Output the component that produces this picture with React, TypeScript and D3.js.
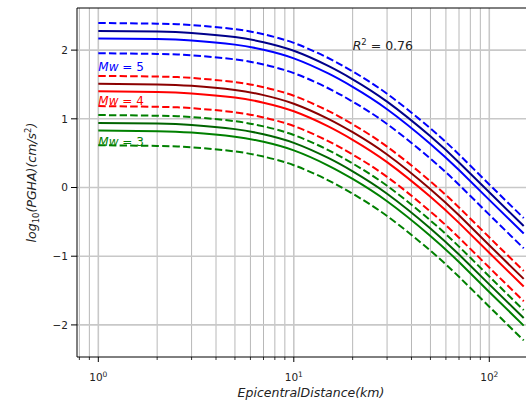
import React from 'react';
import * as d3 from 'd3';

// epicentral distance (km) where the curves were read
const distances = [1, 2, 3, 5, 7, 10, 15, 20, 30, 50, 70, 100, 150];

// Mw = 5
const mw5Upper = [2.395, 2.385, 2.365, 2.305, 2.23, 2.105, 1.885, 1.69, 1.365, 0.86, 0.48, 0.045, -0.445];
const mw5Dark = [2.28, 2.27, 2.25, 2.19, 2.115, 1.99, 1.77, 1.575, 1.25, 0.745, 0.365, -0.07, -0.56];
const mw5Model = [2.17, 2.16, 2.14, 2.08, 2.005, 1.88, 1.66, 1.465, 1.14, 0.635, 0.255, -0.18, -0.67];
const mw5Lower = [1.955, 1.945, 1.925, 1.865, 1.79, 1.665, 1.445, 1.25, 0.925, 0.42, 0.04, -0.395, -0.885];

// Mw = 4
const mw4Upper = [1.625, 1.615, 1.595, 1.535, 1.46, 1.335, 1.115, 0.92, 0.595, 0.09, -0.29, -0.725, -1.215];
const mw4Dark = [1.51, 1.5, 1.48, 1.42, 1.345, 1.22, 1.0, 0.805, 0.48, -0.025, -0.405, -0.84, -1.33];
const mw4Model = [1.4, 1.39, 1.37, 1.31, 1.235, 1.11, 0.89, 0.695, 0.37, -0.135, -0.515, -0.95, -1.44];
const mw4Lower = [1.185, 1.175, 1.155, 1.095, 1.02, 0.895, 0.675, 0.48, 0.155, -0.35, -0.73, -1.165, -1.655];

// Mw = 3
const mw3Upper = [1.055, 1.045, 1.025, 0.965, 0.89, 0.765, 0.545, 0.35, 0.025, -0.48, -0.86, -1.295, -1.785];
const mw3Dark = [0.94, 0.93, 0.91, 0.85, 0.775, 0.65, 0.43, 0.235, -0.09, -0.595, -0.975, -1.41, -1.9];
const mw3Model = [0.83, 0.82, 0.8, 0.74, 0.665, 0.54, 0.32, 0.125, -0.2, -0.705, -1.085, -1.52, -2.01];
const mw3Lower = [0.615, 0.605, 0.585, 0.525, 0.45, 0.325, 0.105, -0.09, -0.415, -0.92, -1.3, -1.735, -2.225];

const yTicks = [-2, -1, 0, 1, 2];
const xMajor = [1, 10, 100];
const xMajorExp = ['0', '1', '2'];
const xMinor = [0.8, 0.9, 2, 3, 4, 5, 6, 7, 8, 9, 20, 30, 40, 50, 60, 70, 80, 90];

const mwLabels = [
  { text: '5', y: 1.7, color: '#0000ff' },
  { text: '4', y: 1.2, color: '#ff0000' },
  { text: '3', y: 0.6, color: '#008000' },
];

const series = [
  { values: mw5Upper, color: '#0000ff', dashed: true },
  { values: mw5Dark, color: '#00008b', dashed: false },
  { values: mw5Model, color: '#0000ff', dashed: false },
  { values: mw5Lower, color: '#0000ff', dashed: true },
  { values: mw4Upper, color: '#ff0000', dashed: true },
  { values: mw4Dark, color: '#8b0000', dashed: false },
  { values: mw4Model, color: '#ff0000', dashed: false },
  { values: mw4Lower, color: '#ff0000', dashed: true },
  { values: mw3Upper, color: '#008000', dashed: true },
  { values: mw3Dark, color: '#006400', dashed: false },
  { values: mw3Model, color: '#008000', dashed: false },
  { values: mw3Lower, color: '#008000', dashed: true },
];

const W = 526;
const H = 405;
const left = 77;
const right = 545;
const top = 8;
const bottom = 357;

export default function App() {
  const x = d3.scaleLog().domain([Math.pow(10, -0.109), Math.pow(10, 2.285)]).range([left, right]);
  const y = d3.scaleLinear().domain([-2.467, 2.613]).range([bottom, top]);

  const line = d3
    .line<number>()
    .x((_, i) => x(distances[i]))
    .y((d) => y(d))
    .curve(d3.curveNatural);

  const font = 'DejaVu Sans, sans-serif';

  return (
    <svg
      width={W}
      height={H}
      style={{ position: 'absolute', left: 0, top: 0, background: '#fff' }}
      fontFamily={font}
    >
      <defs>
        <clipPath id="plot-area">
          <rect x={left} y={top} width={right - left} height={bottom - top} />
        </clipPath>
      </defs>

      {/* grid */}
      <g clipPath="url(#plot-area)">
        {xMinor.map((t) => (
          <line key={`gm-${t}`} x1={x(t)} x2={x(t)} y1={top} y2={bottom} stroke="#b8b8b8" strokeWidth={1} />
        ))}
        {xMajor.map((t) => (
          <line key={`gx-${t}`} x1={x(t)} x2={x(t)} y1={top} y2={bottom} stroke="#c8c8c8" strokeWidth={1.6} />
        ))}
        {yTicks.map((t) => (
          <line key={`gy-${t}`} x1={left} x2={right} y1={y(t)} y2={y(t)} stroke="#c8c8c8" strokeWidth={1.6} />
        ))}
      </g>

      {/* curves */}
      <g clipPath="url(#plot-area)">
        {series.map((s, i) => (
          <path
            key={i}
            d={line(s.values) || ''}
            fill="none"
            stroke={s.color}
            strokeWidth={2}
            strokeDasharray={s.dashed ? '7.4,3.2' : undefined}
          />
        ))}
      </g>

      {/* annotations */}
      {mwLabels.map((m) => (
        <text key={m.text} x={x(1)} y={y(m.y)} fill={m.color} fontSize={12}>
          <tspan fontStyle="italic">Mw</tspan>
          <tspan> = {m.text}</tspan>
        </text>
      ))}
      <text x={x(20)} y={y(2.0)} fill="#222" fontSize={12.5}>
        <tspan fontStyle="italic">R</tspan>
        <tspan fontSize={8.5} dy={-5}>2</tspan>
        <tspan dy={5}> =  0.76</tspan>
      </text>

      {/* spines */}
      <line x1={left} x2={left} y1={top} y2={bottom} stroke="#000" strokeWidth={1} />
      <line x1={left} x2={right} y1={bottom} y2={bottom} stroke="#000" strokeWidth={1} />
      <line x1={left} x2={right} y1={top} y2={top} stroke="#000" strokeWidth={1} />
      <line x1={right} x2={right} y1={top} y2={bottom} stroke="#000" strokeWidth={1} />

      {/* x ticks */}
      {xMinor.map((t) => (
        <line key={`tm-${t}`} x1={x(t)} x2={x(t)} y1={bottom} y2={bottom + 3} stroke="#000" strokeWidth={0.8} />
      ))}
      {xMajor.map((t, i) => (
        <g key={`tx-${t}`}>
          <line x1={x(t)} x2={x(t)} y1={bottom} y2={bottom + 5} stroke="#000" strokeWidth={1} />
          <text x={x(t)} y={381} textAnchor="middle" fontSize={10.5} fill="#222">
            <tspan>10</tspan>
            <tspan fontSize={7.5} dy={-4.5}>{xMajorExp[i]}</tspan>
          </text>
        </g>
      ))}

      {/* y ticks */}
      {yTicks.map((t) => (
        <g key={`ty-${t}`}>
          <line x1={left - 6} x2={left} y1={y(t)} y2={y(t)} stroke="#000" strokeWidth={1} />
          <text x={left - 9} y={y(t)} dy="0.36em" textAnchor="end" fontSize={10.5} fill="#222">
            {t < 0 ? `\u2212${-t}` : `${t}`}
          </text>
        </g>
      ))}

      {/* axis labels */}
      <text x={(left + right) / 2} y={397} textAnchor="middle" fontSize={12.5} fontStyle="italic" fill="#222">
        EpicentralDistance(km)
      </text>
      <text transform={`translate(36, ${(top + bottom) / 2}) rotate(-90)`} textAnchor="middle" fontSize={12.5} fill="#222">
        <tspan fontStyle="italic">log</tspan>
        <tspan fontSize={8.5} dy={3}>10</tspan>
        <tspan fontStyle="italic" dy={-3}>(PGHA)(cm/s</tspan>
        <tspan fontSize={8.5} dy={-5}>2</tspan>
        <tspan fontStyle="italic" dy={5}>)</tspan>
      </text>
    </svg>
  );
}
